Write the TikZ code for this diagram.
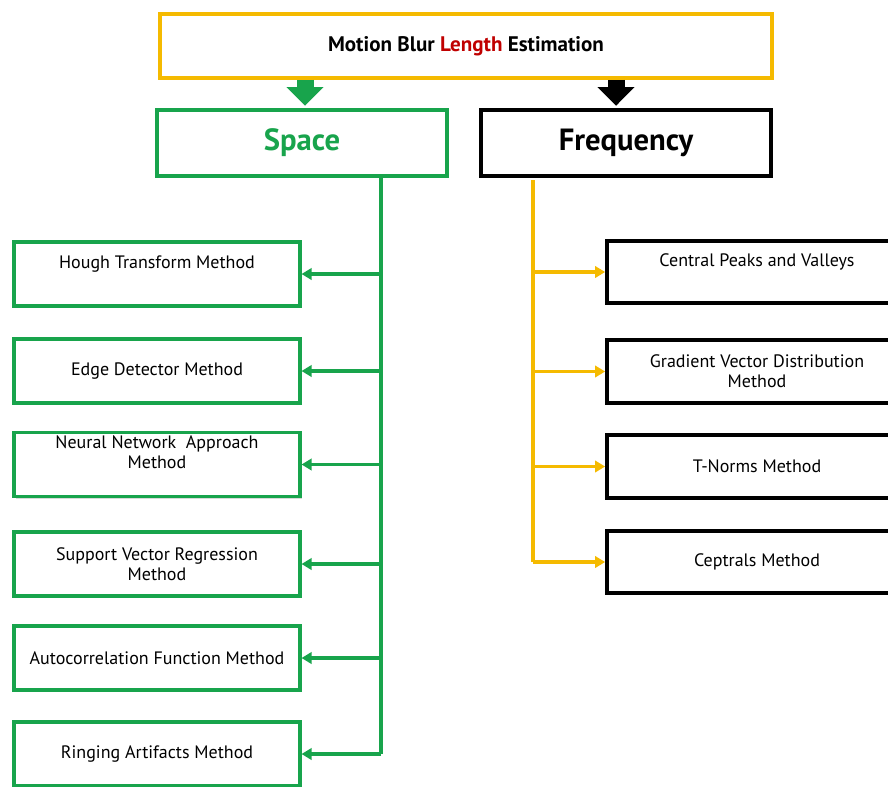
\documentclass[tikz,border=0pt]{standalone}
\usepackage{fontspec}
\setmainfont{PT Sans}
\usepackage{xcolor}
\usetikzlibrary{arrows.meta,shadows}
\definecolor{mbgreen}{RGB}{24,164,76}
\definecolor{mbgold}{RGB}{245,186,0}
\definecolor{mbred}{RGB}{192,0,0}

\begin{document}
\begin{tikzpicture}[x=0.75pt,y=-0.75pt,%
% common options for the boxes:
box/.style = {draw, fill=white, line width=2.8pt, align=center, inner sep=2pt,
            font=\fontsize{13.5}{15}\selectfont,
            drop shadow={shadow xshift=1.5pt, shadow yshift=-1.5pt, opacity=0.3}},
spacebox/.style = {box, draw=mbgreen, minimum width=214pt, minimum height=48pt},
freqbox/.style = {box, draw=black, minimum width=225pt, minimum height=47pt},
raised/.style = {text depth=18pt},
% common options for the connectors:
garrow/.style = {draw=mbgreen, line width=2.6pt, -{Triangle[length=7.5pt,width=8.5pt]}},
farrow/.style = {draw=mbgold, line width=2.6pt, -{Triangle[length=7.5pt,width=8.5pt]}},
bigarrow/.style = {line width=12.75pt, -{Triangle[length=14pt,width=27pt]}, shorten >=2pt}]
\useasboundingbox (0,0) rectangle (888,786);
\clip (0,0) rectangle (888,786);

% top
\node[box, draw=mbgold, minimum width=459pt, minimum height=48pt,
      font=\fontsize{15.8}{18}\selectfont\bfseries] (title) at (466,46)
      {Motion Blur \textcolor{mbred}{Length} Estimation};

\node[box, draw=mbgreen, text=mbgreen, minimum width=217pt, minimum height=49pt,
      font=\fontsize{23}{26}\selectfont\bfseries] (space) at (302,143) {Space};
\node[box, draw=black, minimum width=217pt, minimum height=49pt,
      font=\fontsize{23}{26}\selectfont\bfseries] (freq) at (626,143) {Frequency};

\coordinate (ga) at ([xshift=2.25pt]space.north);
\coordinate (fa) at ([xshift=-7.5pt]freq.north);
\draw[bigarrow, mbgreen] (ga |- title.south) -- (ga);
\draw[bigarrow, black] (fa |- title.south) -- (fa);

% Space
\node[spacebox, raised] (hough) at (157,274) {Hough Transform Method};
\node[spacebox] (edge) at (157,371) {Edge Detector Method};
\node[spacebox, raised] (neural) at (157,464.5) {Neural Network\ \ Approach\\Method};
\node[spacebox] (svr) at (157,564) {Support Vector Regression\\Method};
\node[spacebox] (acf) at (157,658) {Autocorrelation Function Method};
\node[spacebox] (ring) at (157,754) {Ringing Artifacts Method};

\coordinate (gtop) at (381,176);
\draw[draw=mbgreen, line width=2.6pt] (gtop) -- (gtop |- ring.east);
\foreach \n in {hough,edge,neural,svr,acf}
  \draw[garrow] (gtop |- \n.east) -- (\n.east);
\draw[garrow] (gtop |- ring.east) -- (ring.east);

% Frequency
\node[freqbox, raised] (peaks) at (757,272) {Central Peaks and Valleys};
\node[freqbox] (gvd) at (757,371.5) {Gradient Vector Distribution\\Method};
\node[freqbox] (tnorm) at (757,466.5) {T-Norms Method};
\node[freqbox] (cept) at (757,562) {Ceptrals Method};

\coordinate (otop) at (533,180);
\draw[draw=mbgold, line width=2.6pt] (otop) -- (otop |- cept.west);
\foreach \n in {peaks,gvd,tnorm,cept}
  \draw[farrow] (otop |- \n.west) -- (\n.west);
\end{tikzpicture}
\end{document}
